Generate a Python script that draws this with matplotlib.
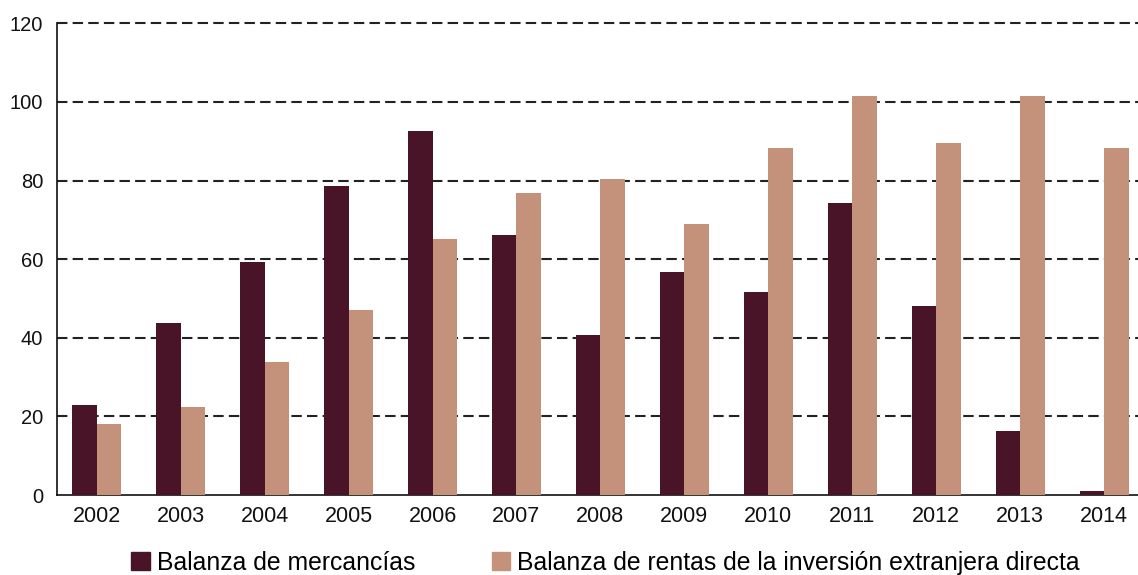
import numpy as np
import matplotlib
matplotlib.use('Agg')
import matplotlib.pyplot as plt
from matplotlib.patches import Patch

years = ['2002', '2003', '2004', '2005', '2006', '2007', '2008',
         '2009', '2010', '2011', '2012', '2013', '2014']
mercancias = [22.9, 43.7, 59.4, 78.5, 92.6, 66.1, 40.7, 56.8, 51.6, 74.2, 48.1, 16.4, 1.0]
rentas_ied = [18.0, 22.5, 33.8, 47.1, 65.2, 76.8, 80.5, 69.0, 88.4, 101.4, 89.6, 101.6, 88.4]
labels = ['Balanza de mercancías',
          'Balanza de rentas de la inversión extranjera directa']
yticks = [0, 20, 40, 60, 80, 100, 120]

dark = '#4a1428'
light = '#c4927b'

plt.rcParams['font.family'] = ['Liberation Sans', 'DejaVu Sans']

fig = plt.figure(figsize=(11.38, 5.75), dpi=100)
ax = fig.add_axes([0.050, 0.139, 0.952, 0.8205])

x = np.arange(len(years))
w = 0.29
ax.bar(x - w / 2, mercancias, w, color=dark, zorder=3)
ax.bar(x + w / 2, rentas_ied, w, color=light, zorder=3)

ax.set_xlim(-0.474, 12.43)
ax.set_ylim(0, 120)
ax.set_yticks(yticks)
ax.set_xticks(x)
ax.set_xticklabels(years)

# dashed grid lines behind the bars
for v in yticks[1:]:
    ax.axhline(v, color='#222222', lw=1.5, ls=(0, (5, 2.5)), zorder=1, clip_on=False)

for s in ['top', 'right']:
    ax.spines[s].set_visible(False)
for s in ['left', 'bottom']:
    ax.spines[s].set_linewidth(1.2)
    ax.spines[s].set_color('#111111')

ax.tick_params(axis='both', length=0, colors='#111111')
ax.tick_params(axis='y', pad=10, labelsize=14.5)
ax.tick_params(axis='x', pad=8, labelsize=15.5)

handles = [Patch(color=dark), Patch(color=light)]
fig.legend(handles, labels, loc='center', bbox_to_anchor=(0.532, 0.0209), ncol=2,
           frameon=False, fontsize=17.8, handlelength=0.75, handleheight=0.75,
           handletextpad=0.28, columnspacing=3.1, borderpad=0)

fig.savefig('out.png', dpi=100)
